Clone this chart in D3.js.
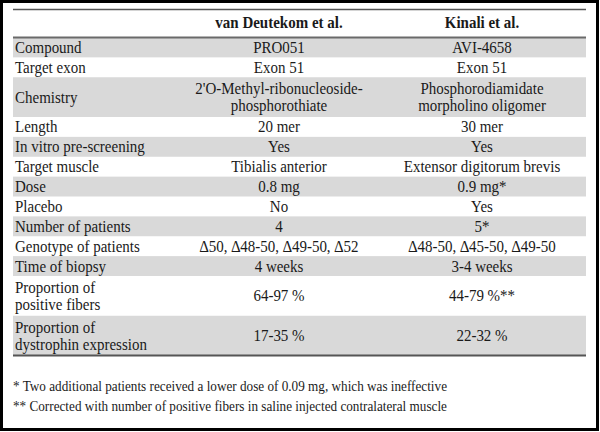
<!DOCTYPE html>
<html><head><meta charset="utf-8">
<script src="https://cdn.jsdelivr.net/npm/d3@7"></script>
<style>html,body{margin:0;padding:0;background:#fff}svg{display:block}</style>
</head><body>
<svg id="c" width="600" height="432"></svg>
<script>
const headers = ["", "van Deutekom et al.", "Kinali et al."];
const rowLabels = [
  ["Compound"], ["Target exon"], ["Chemistry"], ["Length"], ["In vitro pre-screening"],
  ["Target muscle"], ["Dose"], ["Placebo"], ["Number of patients"], ["Genotype of patients"],
  ["Time of biopsy"], ["Proportion of", "positive fibers"], ["Proportion of", "dystrophin expression"]
];
const vanDeutekom = [
  ["PRO051"], ["Exon 51"], ["2'O-Methyl-ribonucleoside-", "phosphorothiate"], ["20 mer"], ["Yes"],
  ["Tibialis anterior"], ["0.8 mg"], ["No"], ["4"], ["∆50, ∆48-50, ∆49-50, ∆52"],
  ["4 weeks"], ["64-97 %"], ["17-35 %"]
];
const kinali = [
  ["AVI-4658"], ["Exon 51"], ["Phosphorodiamidate", "morpholino oligomer"], ["30 mer"], ["Yes"],
  ["Extensor digitorum brevis"], ["0.9 mg*"], ["Yes"], ["5*"], ["∆48-50, ∆45-50, ∆49-50"],
  ["3-4 weeks"], ["44-79 %**"], ["22-32 %"]
];
const footnotes = [
  "* Two additional patients received a lower dose of 0.09 mg, which was ineffective",
  "** Corrected with number of positive fibers in saline injected contralateral muscle"
];

const svg = d3.select("#c");
const FONT = '"Liberation Serif", "Times New Roman", serif';
const fs = 15;
const stretch = 1.12;

const rows = rowLabels.map((l, i) => ({label: l, v1: vanDeutekom[i], v2: kinali[i],
  n: Math.max(l.length, vanDeutekom[i].length, kinali[i].length)}));
let acc = 0;
rows.forEach(r => { r.start = acc; acc += r.n; r.end = acc; });
const y = d3.scaleLinear().domain([0, acc]).range([37.5, 355.5]);
const colX = [15, 279, 482];
const tableL = 13, tableR = 586;

svg.append("rect").attr("x", 1.5).attr("y", 1.5).attr("width", 596).attr("height", 428)
  .attr("fill", "#fff").attr("stroke", "#000").attr("stroke-width", 3);

svg.selectAll("rect.band").data(rows.filter((r, i) => i % 2 === 0)).join("rect")
  .attr("class", "band").attr("x", tableL).attr("width", tableR - tableL)
  .attr("y", r => y(r.start)).attr("height", r => y(r.end) - y(r.start))
  .attr("fill", "#d9d9d9");

svg.append("line").attr("x1", tableL).attr("x2", tableR).attr("y1", 9.5).attr("y2", 9.5)
  .attr("stroke", "#555").attr("stroke-width", 1.5);
svg.append("line").attr("x1", tableL).attr("x2", tableR).attr("y1", y(0)).attr("y2", y(0))
  .attr("stroke", "#6a6a6a").attr("stroke-width", 2);
svg.append("line").attr("x1", tableL).attr("x2", tableR).attr("y1", y(acc)).attr("y2", y(acc))
  .attr("stroke", "#555").attr("stroke-width", 2);

function label(x0, y0, str, anchor, size, bold) {
  svg.append("text")
    .attr("transform", `translate(${x0},${y0}) scale(1,${stretch})`)
    .attr("text-anchor", anchor)
    .style("font-family", FONT).style("font-size", size + "px")
    .style("font-weight", bold ? "bold" : "normal")
    .attr("fill", "#1a1a1a").text(str);
}

headers.slice(1).forEach((h, i) => label(colX[i + 1], 28, h, "middle", fs, true));

function cell(lines, r, col) {
  const c = (y(r.start) + y(r.end)) / 2;
  lines.forEach((ln, i) => {
    label(colX[col], c + 5.5 + (i - (lines.length - 1) / 2) * 17, ln,
      col === 0 ? "start" : "middle", fs, false);
  });
}
rows.forEach(r => { cell(r.label, r, 0); cell(r.v1, r, 1); cell(r.v2, r, 2); });

footnotes.forEach((f, i) => label(13, 391 + i * 19.5, f, "start", 13.2, false));
</script>
</body></html>
